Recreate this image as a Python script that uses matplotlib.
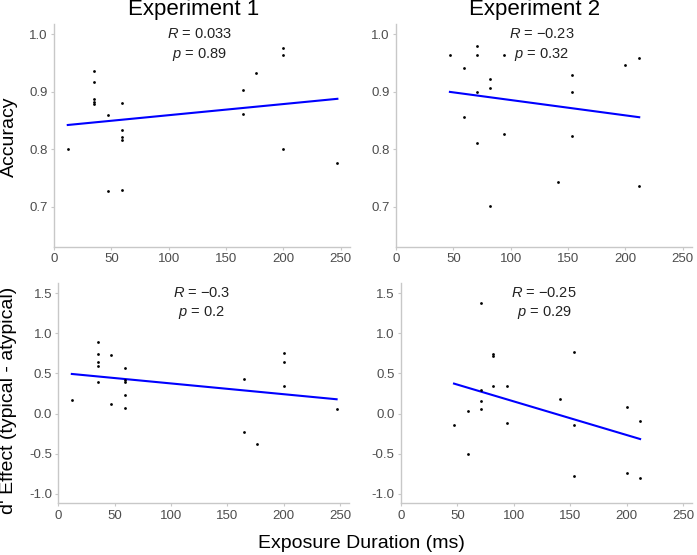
import numpy as np
import matplotlib
matplotlib.use("Agg")
import matplotlib.pyplot as plt

plt.rcParams['font.family'] = ['Liberation Sans', 'DejaVu Sans']
plt.rcParams['mathtext.fontset'] = 'custom'
plt.rcParams['mathtext.rm'] = 'Liberation Sans'
plt.rcParams['mathtext.it'] = 'Liberation Sans:italic'

# Experiment 1 exposure durations (ms) and values
exp1_x = [12, 35, 35, 35, 35, 35, 47, 47, 59, 59, 59, 59, 59, 165, 165, 176, 200, 200, 200, 247]
exp1_acc = [0.800, 0.936, 0.917, 0.888, 0.883, 0.879, 0.860, 0.728, 0.880, 0.833, 0.822,
            0.816, 0.730, 0.904, 0.862, 0.933, 0.977, 0.964, 0.800, 0.777]
exp1_dprime = [0.166, 0.897, 0.739, 0.644, 0.590, 0.395, 0.731, 0.125, 0.569, 0.415, 0.395,
               0.228, 0.075, 0.432, -0.224, -0.382, 0.756, 0.640, 0.349, 0.054]

# Experiment 2
exp2_x_acc = [47, 59, 59, 71, 71, 71, 71, 82, 82, 82, 94, 94, 141, 153, 153, 153, 200, 212, 212]
exp2_acc = [0.9635, 0.942, 0.856, 0.980, 0.9635, 0.899, 0.812, 0.923, 0.906, 0.702, 0.9635,
            0.826, 0.743, 0.930, 0.899, 0.823, 0.947, 0.9595, 0.736]
exp2_x_dp = [47, 59, 59, 71, 71, 71, 71, 82, 82, 82, 94, 94, 141, 153, 153, 153, 200, 200, 212, 212]
exp2_dprime = [-0.137, 0.037, -0.502, 1.379, 0.299, 0.158, 0.062, 0.748, 0.723, 0.341, 0.349,
               -0.112, 0.179, 0.764, -0.141, -0.772, 0.087, -0.743, -0.091, -0.806]

# fitted lines (endpoints)
fit1_acc = ([12, 247], [0.8425, 0.888])
fit2_acc = ([47, 212], [0.900, 0.856])
fit1_dp = ([12, 247], [0.494, 0.179])
fit2_dp = ([47, 212], [0.374, -0.316])

stats = [("0.033", "0.89"), ("\u22120.23", "0.32"), ("\u22120.3", "0.2"), ("\u22120.25", "0.29")]

W, H = 697, 555
fig = plt.figure(figsize=(W / 100, H / 100), dpi=100)


def add_ax(left, top, right, bottom):
    return fig.add_axes([left / W, 1 - bottom / H, (right - left) / W, (bottom - top) / H])


ax1 = add_ax(54, 24, 350, 246.7)
ax2 = add_ax(396, 24, 692, 246.7)
ax3 = add_ax(58.3, 282.7, 349, 503.3)
ax4 = add_ax(401, 282.7, 692, 503.3)

panels = [
    (ax1, exp1_x, exp1_acc, fit1_acc, (0.631, 1.018), [0.7, 0.8, 0.9, 1.0]),
    (ax2, exp2_x_acc, exp2_acc, fit2_acc, (0.631, 1.018), [0.7, 0.8, 0.9, 1.0]),
    (ax3, exp1_x, exp1_dprime, fit1_dp, (-1.116, 1.63), [-1.0, -0.5, 0.0, 0.5, 1.0, 1.5]),
    (ax4, exp2_x_dp, exp2_dprime, fit2_dp, (-1.116, 1.63), [-1.0, -0.5, 0.0, 0.5, 1.0, 1.5]),
]

for (ax, xs, ys, fit, ylim, yt), (r, p) in zip(panels, stats):
    ax.scatter(xs, ys, s=4, color='black', linewidths=0, zorder=3)
    ax.plot(fit[0], fit[1], color='#0000FF', lw=1.5, zorder=2)
    ax.set_xlim(0, 258)
    ax.set_ylim(*ylim)
    ax.set_xticks([0, 50, 100, 150, 200, 250])
    ax.set_yticks(yt)
    ax.set_yticklabels(['%.1f' % v for v in yt])
    for s in ['top', 'right']:
        ax.spines[s].set_visible(False)
    for s in ['left', 'bottom']:
        ax.spines[s].set_color('#C8C8C8')
        ax.spines[s].set_linewidth(1.0)
    ax.tick_params(length=2.5, width=0.8, color='#C8C8C8', labelcolor='#4D4D4D',
                   labelsize=9.5, pad=2)
    tr = ax.get_xaxis_transform()
    ax.text(127, 0.953, r'$\it{R}$ = ' + r, transform=tr, ha='center', va='center', fontsize=10.5,
            color='#222222')
    ax.text(127, 0.863, r'$\it{p}$ = ' + p, transform=tr, ha='center', va='center', fontsize=10.5,
            color='#222222')

fig.text(194 / W, 1 - 9 / H, "Experiment 1", ha='center', va='center', fontsize=16)
fig.text(535 / W, 1 - 9 / H, "Experiment 2", ha='center', va='center', fontsize=16)
fig.text(9 / W, 1 - 137 / H, "Accuracy", ha='center', va='center', rotation=90, fontsize=14)
fig.text(9 / W, 1 - 400 / H, "d' Effect (typical - atypical)", ha='center', va='center',
         rotation=90, fontsize=14)
fig.text(361 / W, 1 - 544 / H, "Exposure Duration (ms)", ha='center', va='center', fontsize=14)

fig.savefig("out.png", dpi=100)
